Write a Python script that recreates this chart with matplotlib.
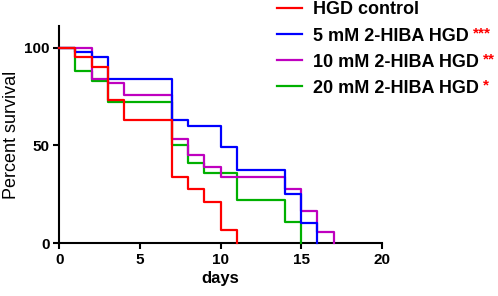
import matplotlib
matplotlib.use("Agg")
import matplotlib.pyplot as plt

plt.rcParams["font.family"] = ["Liberation Sans", "DejaVu Sans"]

# Survival curves (days, percent survival)
control_days = [0, 1, 2, 3, 4, 7, 8, 9, 10, 11]
control_surv = [100, 95, 90, 73, 63, 34, 28, 21, 7, 0]

hiba5_days = [0, 1, 2, 3, 7, 8, 10, 11, 14, 15, 16]
hiba5_surv = [100, 97.5, 95, 84, 63, 60, 49, 37.5, 25, 10.5, 0]

hiba10_days = [0, 2, 3, 4, 7, 8, 9, 10, 14, 15, 16, 17]
hiba10_surv = [100, 84, 82, 76, 53.5, 45, 39, 34, 28, 16.5, 5.6, 0]

hiba20_days = [0, 1, 2, 3, 7, 8, 9, 11, 14, 15]
hiba20_surv = [100, 88, 83, 72, 50, 41, 36, 22, 11, 0]

labels = ["HGD control", "5 mM 2-HIBA HGD", "10 mM 2-HIBA HGD", "20 mM 2-HIBA HGD"]
stars = ["", "***", "**", "*"]
colors = ["#ff0000", "#0000ff", "#bf00bf", "#00b000"]

x_ticks = [0, 5, 10, 15, 20]
y_ticks = [0, 50, 100]

series = [
    (control_days, control_surv),
    (hiba5_days, hiba5_surv),
    (hiba10_days, hiba10_surv),
    (hiba20_days, hiba20_surv),
]
zorders = [5, 4, 3, 2]

fig = plt.figure(figsize=(4.98, 2.96), dpi=100)
ax = fig.add_axes([0.119, 0.178, 0.648, 0.734])

handles = []
for (d, s), c, lab, z in zip(series, colors, labels, zorders):
    h, = ax.step(d, s, where="post", color=c, linewidth=1.6, label=lab,
                 zorder=z, clip_on=False)
    handles.append(h)

ax.set_xlim(0, 20)
ax.set_ylim(0, 111)
ax.set_xticks(x_ticks)
ax.set_yticks(y_ticks)

for side in ["top", "right"]:
    ax.spines[side].set_visible(False)
for side in ["left", "bottom"]:
    ax.spines[side].set_linewidth(1.5)
    ax.spines[side].set_zorder(1)
ax.tick_params(width=1.5, length=4, labelsize=11, pad=3)
for t in ax.get_xticklabels() + ax.get_yticklabels():
    t.set_fontweight("bold")

ax.set_xlabel("days", fontsize=12, fontweight="bold", labelpad=3)
ax.set_ylabel("Percent survival", fontsize=13, labelpad=3)

leg = fig.legend(handles, labels, loc="upper left",
                 bbox_to_anchor=(0.556, 0.995), frameon=False,
                 prop={"size": 13, "weight": "bold"},
                 handlelength=1.4, handletextpad=0.6, labelspacing=0.5,
                 borderaxespad=0, borderpad=0)

# red significance stars next to legend labels
fig.canvas.draw()
renderer = fig.canvas.get_renderer()
for txt, st in zip(leg.get_texts(), stars):
    if not st:
        continue
    bb = txt.get_window_extent(renderer)
    x, y = fig.transFigure.inverted().transform((bb.x1 + 4, bb.y1 + 1))
    fig.text(x, y, st, color="#ff0000", fontsize=11, fontweight="bold",
             ha="left", va="top")

fig.savefig("out.png", dpi=100)
